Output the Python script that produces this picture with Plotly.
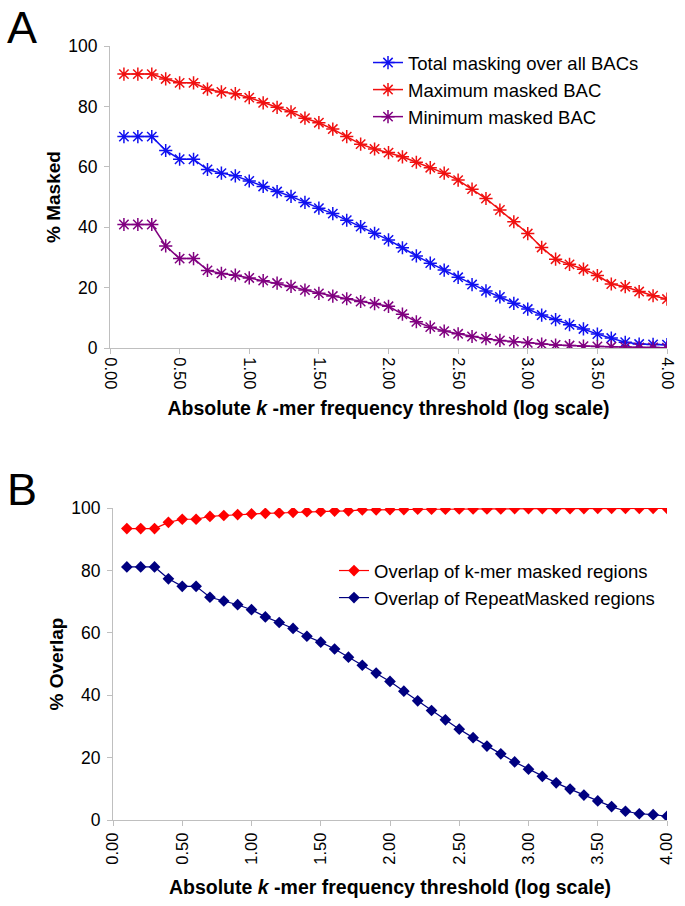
import plotly.graph_objects as go

x_vals = [round(0.1 * i, 1) for i in range(1, 41)]

total_masking = [70.0, 70.0, 70.0, 65.4, 62.5, 62.5, 59.1, 57.9, 57.0, 55.3,
                 53.5, 51.8, 50.2, 48.2, 46.3, 44.5, 42.3, 40.2, 38.0, 35.8,
                 33.2, 30.5, 28.1, 25.8, 23.4, 21.0, 18.9, 16.9, 14.8, 12.9,
                 10.9, 9.4, 7.7, 6.3, 4.6, 3.3, 1.9, 1.3, 1.2, 1.1]
max_masked = [90.7, 90.7, 90.7, 89.1, 87.8, 87.8, 85.7, 84.8, 84.2, 82.9,
              81.2, 79.7, 78.2, 76.1, 74.6, 72.5, 70.0, 67.5, 65.9, 64.7,
              63.3, 61.5, 59.7, 57.9, 55.6, 52.6, 49.5, 45.7, 41.8, 37.9,
              33.3, 29.4, 27.7, 26.1, 24.0, 21.2, 20.3, 18.7, 17.3, 16.2]
min_masked = [40.9, 40.9, 40.9, 33.8, 29.6, 29.6, 25.7, 24.7, 24.1, 23.2,
              22.3, 21.5, 20.4, 19.2, 18.1, 17.2, 16.3, 15.4, 14.7, 13.8,
              11.2, 8.7, 6.9, 5.6, 4.7, 3.8, 3.1, 2.5, 2.1, 1.7,
              1.3, 1.0, 0.8, 0.6, 0.5, 0.4, 0.3, 0.2, 0.2, 0.1]

overlap_kmer = [93.4, 93.4, 93.4, 95.4, 96.4, 96.4, 97.3, 97.6, 97.9, 98.1,
                98.3, 98.4, 98.6, 98.8, 98.9, 99.0, 99.1, 99.4, 99.4, 99.5,
                99.5, 99.6, 99.6, 99.6, 99.7, 99.7, 99.7, 99.7, 99.8, 99.8,
                99.8, 99.8, 99.8, 99.8, 99.9, 99.9, 99.9, 99.9, 99.9, 99.9]
overlap_repeat = [81.1, 81.1, 81.1, 77.3, 74.9, 74.9, 71.4, 70.2, 69.0, 67.4,
                  65.1, 63.3, 61.4, 58.9, 57.0, 54.8, 52.2, 49.6, 47.1, 44.4,
                  41.3, 38.2, 35.1, 32.1, 29.1, 26.4, 23.7, 21.2, 18.6, 16.3,
                  14.0, 11.9, 9.9, 8.0, 6.1, 4.3, 2.8, 2.0, 1.7, 1.2]

x_ticks = [0.0, 0.5, 1.0, 1.5, 2.0, 2.5, 3.0, 3.5, 4.0]
y_ticks = [0, 20, 40, 60, 80, 100]

W, H = 685, 906
FONT = "Liberation Sans, Arial, sans-serif"

fig = go.Figure()

def star(name, y, color):
    return go.Scatter(x=x_vals, y=y, name=name, mode="lines+markers",
                      line=dict(color=color, width=1.5),
                      marker=dict(symbol="asterisk-open", size=11,
                                  line=dict(color=color, width=1.5)),
                      xaxis="x", yaxis="y", legend="legend")

fig.add_trace(star("Total masking over all BACs", total_masking, "#1010f0"))
fig.add_trace(star("Maximum masked BAC", max_masked, "#f01010"))
fig.add_trace(star("Minimum masked BAC", min_masked, "#800080"))

def diamond(name, y, color):
    return go.Scatter(x=x_vals, y=y, name=name, mode="lines+markers",
                      line=dict(color=color, width=1.2),
                      marker=dict(symbol="diamond", size=9, color=color),
                      xaxis="x2", yaxis="y2", legend="legend2")

fig.add_trace(diamond("Overlap of k-mer masked regions", overlap_kmer, "#ff0000"))
fig.add_trace(diamond("Overlap of RepeatMasked regions", overlap_repeat, "#000080"))

axis_common = dict(showgrid=False, zeroline=False, showline=True,
                   linecolor="#bfbfbf", linewidth=1, ticks="outside",
                   ticklen=5, tickcolor="#bfbfbf", automargin=False)

x_title = "Absolute <i>k</i> -mer frequency threshold (log scale)"

fig.update_layout(
    width=W, height=H, margin=dict(l=0, r=0, t=0, b=0),
    paper_bgcolor="white", plot_bgcolor="white",
    font=dict(family=FONT, color="black"),
    xaxis=dict(domain=[110 / W, 667 / W], range=[0, 4], anchor="y",
               tickvals=x_ticks, tickformat=".2f", tickangle=90,
               tickfont=dict(size=16.5),
               title=dict(text=x_title, font=dict(size=19.5, weight="bold"),
                          standoff=12),
               **axis_common),
    yaxis=dict(domain=[1 - 348 / H, 1 - 46 / H], range=[0, 100], anchor="x",
               tickvals=y_ticks, tickfont=dict(size=17.5), ticklabelstandoff=3,
               title=dict(text="% Masked", font=dict(size=19, weight="bold"), standoff=2),
               **axis_common),
    xaxis2=dict(domain=[113 / W, 667 / W], range=[0, 4], anchor="y2",
                tickvals=x_ticks, tickformat=".2f", tickangle=-90,
                tickfont=dict(size=16.5),
                title=dict(text=x_title, font=dict(size=19.5, weight="bold"),
                           standoff=16),
                **axis_common),
    yaxis2=dict(domain=[1 - 820 / H, 1 - 508 / H], range=[0, 100], anchor="x2",
                tickvals=y_ticks, tickfont=dict(size=17.5), ticklabelstandoff=3,
                title=dict(text="% Overlap", font=dict(size=19, weight="bold"), standoff=2),
                **axis_common),
    legend=dict(x=368 / W, y=1 - 44 / H, xanchor="left", yanchor="top",
                font=dict(size=18.5), bgcolor="rgba(0,0,0,0)", tracegroupgap=0,
                itemwidth=30),
    legend2=dict(x=334 / W, y=1 - 552 / H, xanchor="left", yanchor="top",
                 font=dict(size=18.5), bgcolor="rgba(0,0,0,0)", tracegroupgap=0,
                 itemwidth=30),
    annotations=[
        dict(text="A", x=22 / W, y=1, xref="paper", yref="paper",
             xanchor="center", yanchor="top", showarrow=False,
             font=dict(size=45, family=FONT)),
        dict(text="B", x=22 / W, y=1 - 462 / H, xref="paper", yref="paper",
             xanchor="center", yanchor="top", showarrow=False,
             font=dict(size=45, family=FONT)),
    ],
)

fig.write_html("out.html", config={"displayModeBar": False},
               post_script="document.body.style.margin='0';document.body.style.padding='0';")
